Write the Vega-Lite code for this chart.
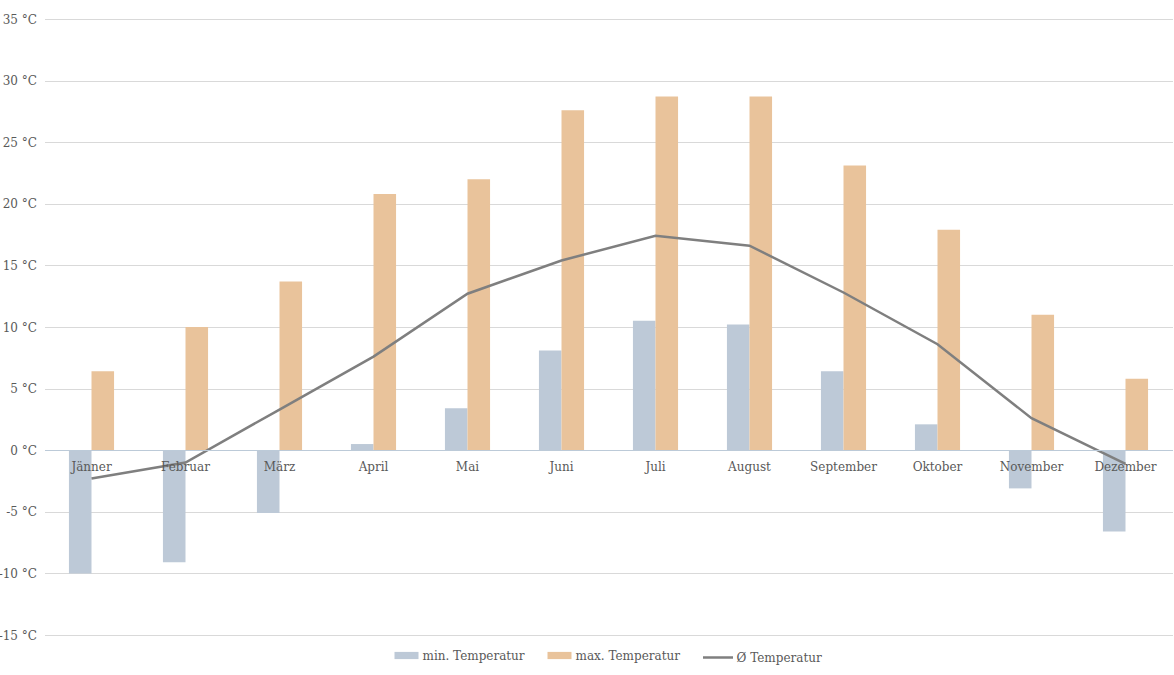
{
  "$schema": "https://vega.github.io/schema/vega-lite/v6.json",
  "autosize": "none",
  "width": 1128,
  "height": 616,
  "padding": {"left": 44.5, "top": 19, "right": 1.5, "bottom": 40},
  "background": "white",
  "config": {
    "view": {"stroke": null},
    "font": "DejaVu Serif",
    "axis": {"labelFont": "DejaVu Serif", "labelFontSize": 12, "labelColor": "#595959"},
    "legend": {"labelFont": "DejaVu Serif", "labelFontSize": 12, "labelColor": "#595959", "layout": {"bottom": {"anchor": "middle", "direction": "horizontal", "margin": 21, "center": true}}}
  },
  "datasets": {
    "bars": [
      {"Monat": "Jänner", "Typ": "min. Temperatur", "Wert": -10.0},
      {"Monat": "Jänner", "Typ": "max. Temperatur", "Wert": 6.4},
      {"Monat": "Februar", "Typ": "min. Temperatur", "Wert": -9.1},
      {"Monat": "Februar", "Typ": "max. Temperatur", "Wert": 10.0},
      {"Monat": "März", "Typ": "min. Temperatur", "Wert": -5.1},
      {"Monat": "März", "Typ": "max. Temperatur", "Wert": 13.7},
      {"Monat": "April", "Typ": "min. Temperatur", "Wert": 0.5},
      {"Monat": "April", "Typ": "max. Temperatur", "Wert": 20.8},
      {"Monat": "Mai", "Typ": "min. Temperatur", "Wert": 3.4},
      {"Monat": "Mai", "Typ": "max. Temperatur", "Wert": 22.0},
      {"Monat": "Juni", "Typ": "min. Temperatur", "Wert": 8.1},
      {"Monat": "Juni", "Typ": "max. Temperatur", "Wert": 27.6},
      {"Monat": "Juli", "Typ": "min. Temperatur", "Wert": 10.5},
      {"Monat": "Juli", "Typ": "max. Temperatur", "Wert": 28.7},
      {"Monat": "August", "Typ": "min. Temperatur", "Wert": 10.2},
      {"Monat": "August", "Typ": "max. Temperatur", "Wert": 28.7},
      {"Monat": "September", "Typ": "min. Temperatur", "Wert": 6.4},
      {"Monat": "September", "Typ": "max. Temperatur", "Wert": 23.1},
      {"Monat": "Oktober", "Typ": "min. Temperatur", "Wert": 2.1},
      {"Monat": "Oktober", "Typ": "max. Temperatur", "Wert": 17.9},
      {"Monat": "November", "Typ": "min. Temperatur", "Wert": -3.1},
      {"Monat": "November", "Typ": "max. Temperatur", "Wert": 11.0},
      {"Monat": "Dezember", "Typ": "min. Temperatur", "Wert": -6.6},
      {"Monat": "Dezember", "Typ": "max. Temperatur", "Wert": 5.8}
    ],
    "avg": [
      {"Monat": "Jänner", "Reihe": "Ø Temperatur", "Wert": -2.3},
      {"Monat": "Februar", "Reihe": "Ø Temperatur", "Wert": -1.0},
      {"Monat": "März", "Reihe": "Ø Temperatur", "Wert": 3.3},
      {"Monat": "April", "Reihe": "Ø Temperatur", "Wert": 7.6},
      {"Monat": "Mai", "Reihe": "Ø Temperatur", "Wert": 12.7},
      {"Monat": "Juni", "Reihe": "Ø Temperatur", "Wert": 15.4},
      {"Monat": "Juli", "Reihe": "Ø Temperatur", "Wert": 17.4},
      {"Monat": "August", "Reihe": "Ø Temperatur", "Wert": 16.6},
      {"Monat": "September", "Reihe": "Ø Temperatur", "Wert": 12.8},
      {"Monat": "Oktober", "Reihe": "Ø Temperatur", "Wert": 8.6},
      {"Monat": "November", "Reihe": "Ø Temperatur", "Wert": 2.6},
      {"Monat": "Dezember", "Reihe": "Ø Temperatur", "Wert": -1.1}
    ]
  },
  "encoding": {
    "x": {
      "field": "Monat", "type": "nominal", "sort": null, "title": null,
      "scale": {"paddingInner": 0.52, "paddingOuter": 0.26},
      "axis": {"labelAngle": 0, "offset": -185, "ticks": false, "domainColor": "#bccad8", "domainWidth": 1, "labelPadding": 11, "zindex": 1}
    },
    "y": {
      "field": "Wert", "type": "quantitative", "title": null,
      "scale": {"domain": [-15, 35], "nice": false, "zero": false},
      "axis": {"values": [-15, -10, -5, 0, 5, 10, 15, 20, 25, 30, 35], "labelExpr": "datum.value + ' °C'", "domain": false, "ticks": false, "gridColor": "#d9d9d9", "labelPadding": 8}
    }
  },
  "layer": [
    {
      "data": {"name": "bars"},
      "mark": {"type": "bar"},
      "encoding": {
        "xOffset": {"field": "Typ", "type": "nominal", "sort": ["min. Temperatur", "max. Temperatur"], "scale": {"paddingInner": 0}},
        "color": {
          "field": "Typ", "type": "nominal",
          "scale": {"domain": ["min. Temperatur", "max. Temperatur"], "range": ["#bdc9d7", "#e9c39b"]},
          "legend": {"title": null, "orient": "bottom", "direction": "horizontal", "symbolType": "M-1,-0.3H1V0.3H-1Z", "symbolSize": 576, "symbolStrokeWidth": 0, "columnPadding": 22, "labelOffset": 4, "offset": 6}
        }
      }
    },
    {
      "data": {"name": "avg"},
      "mark": {"type": "line", "strokeWidth": 2.5},
      "encoding": {
        "stroke": {
          "field": "Reihe", "type": "nominal",
          "scale": {"domain": ["Ø Temperatur"], "range": ["#7f7f7f"]},
          "legend": {"title": null, "orient": "bottom", "direction": "horizontal", "symbolType": "stroke", "symbolStrokeWidth": 2.5, "symbolSize": 900, "labelOffset": 2, "offset": 6}
        }
      }
    }
  ],
  "resolve": {"legend": {"color": "independent", "stroke": "independent"}}
}
